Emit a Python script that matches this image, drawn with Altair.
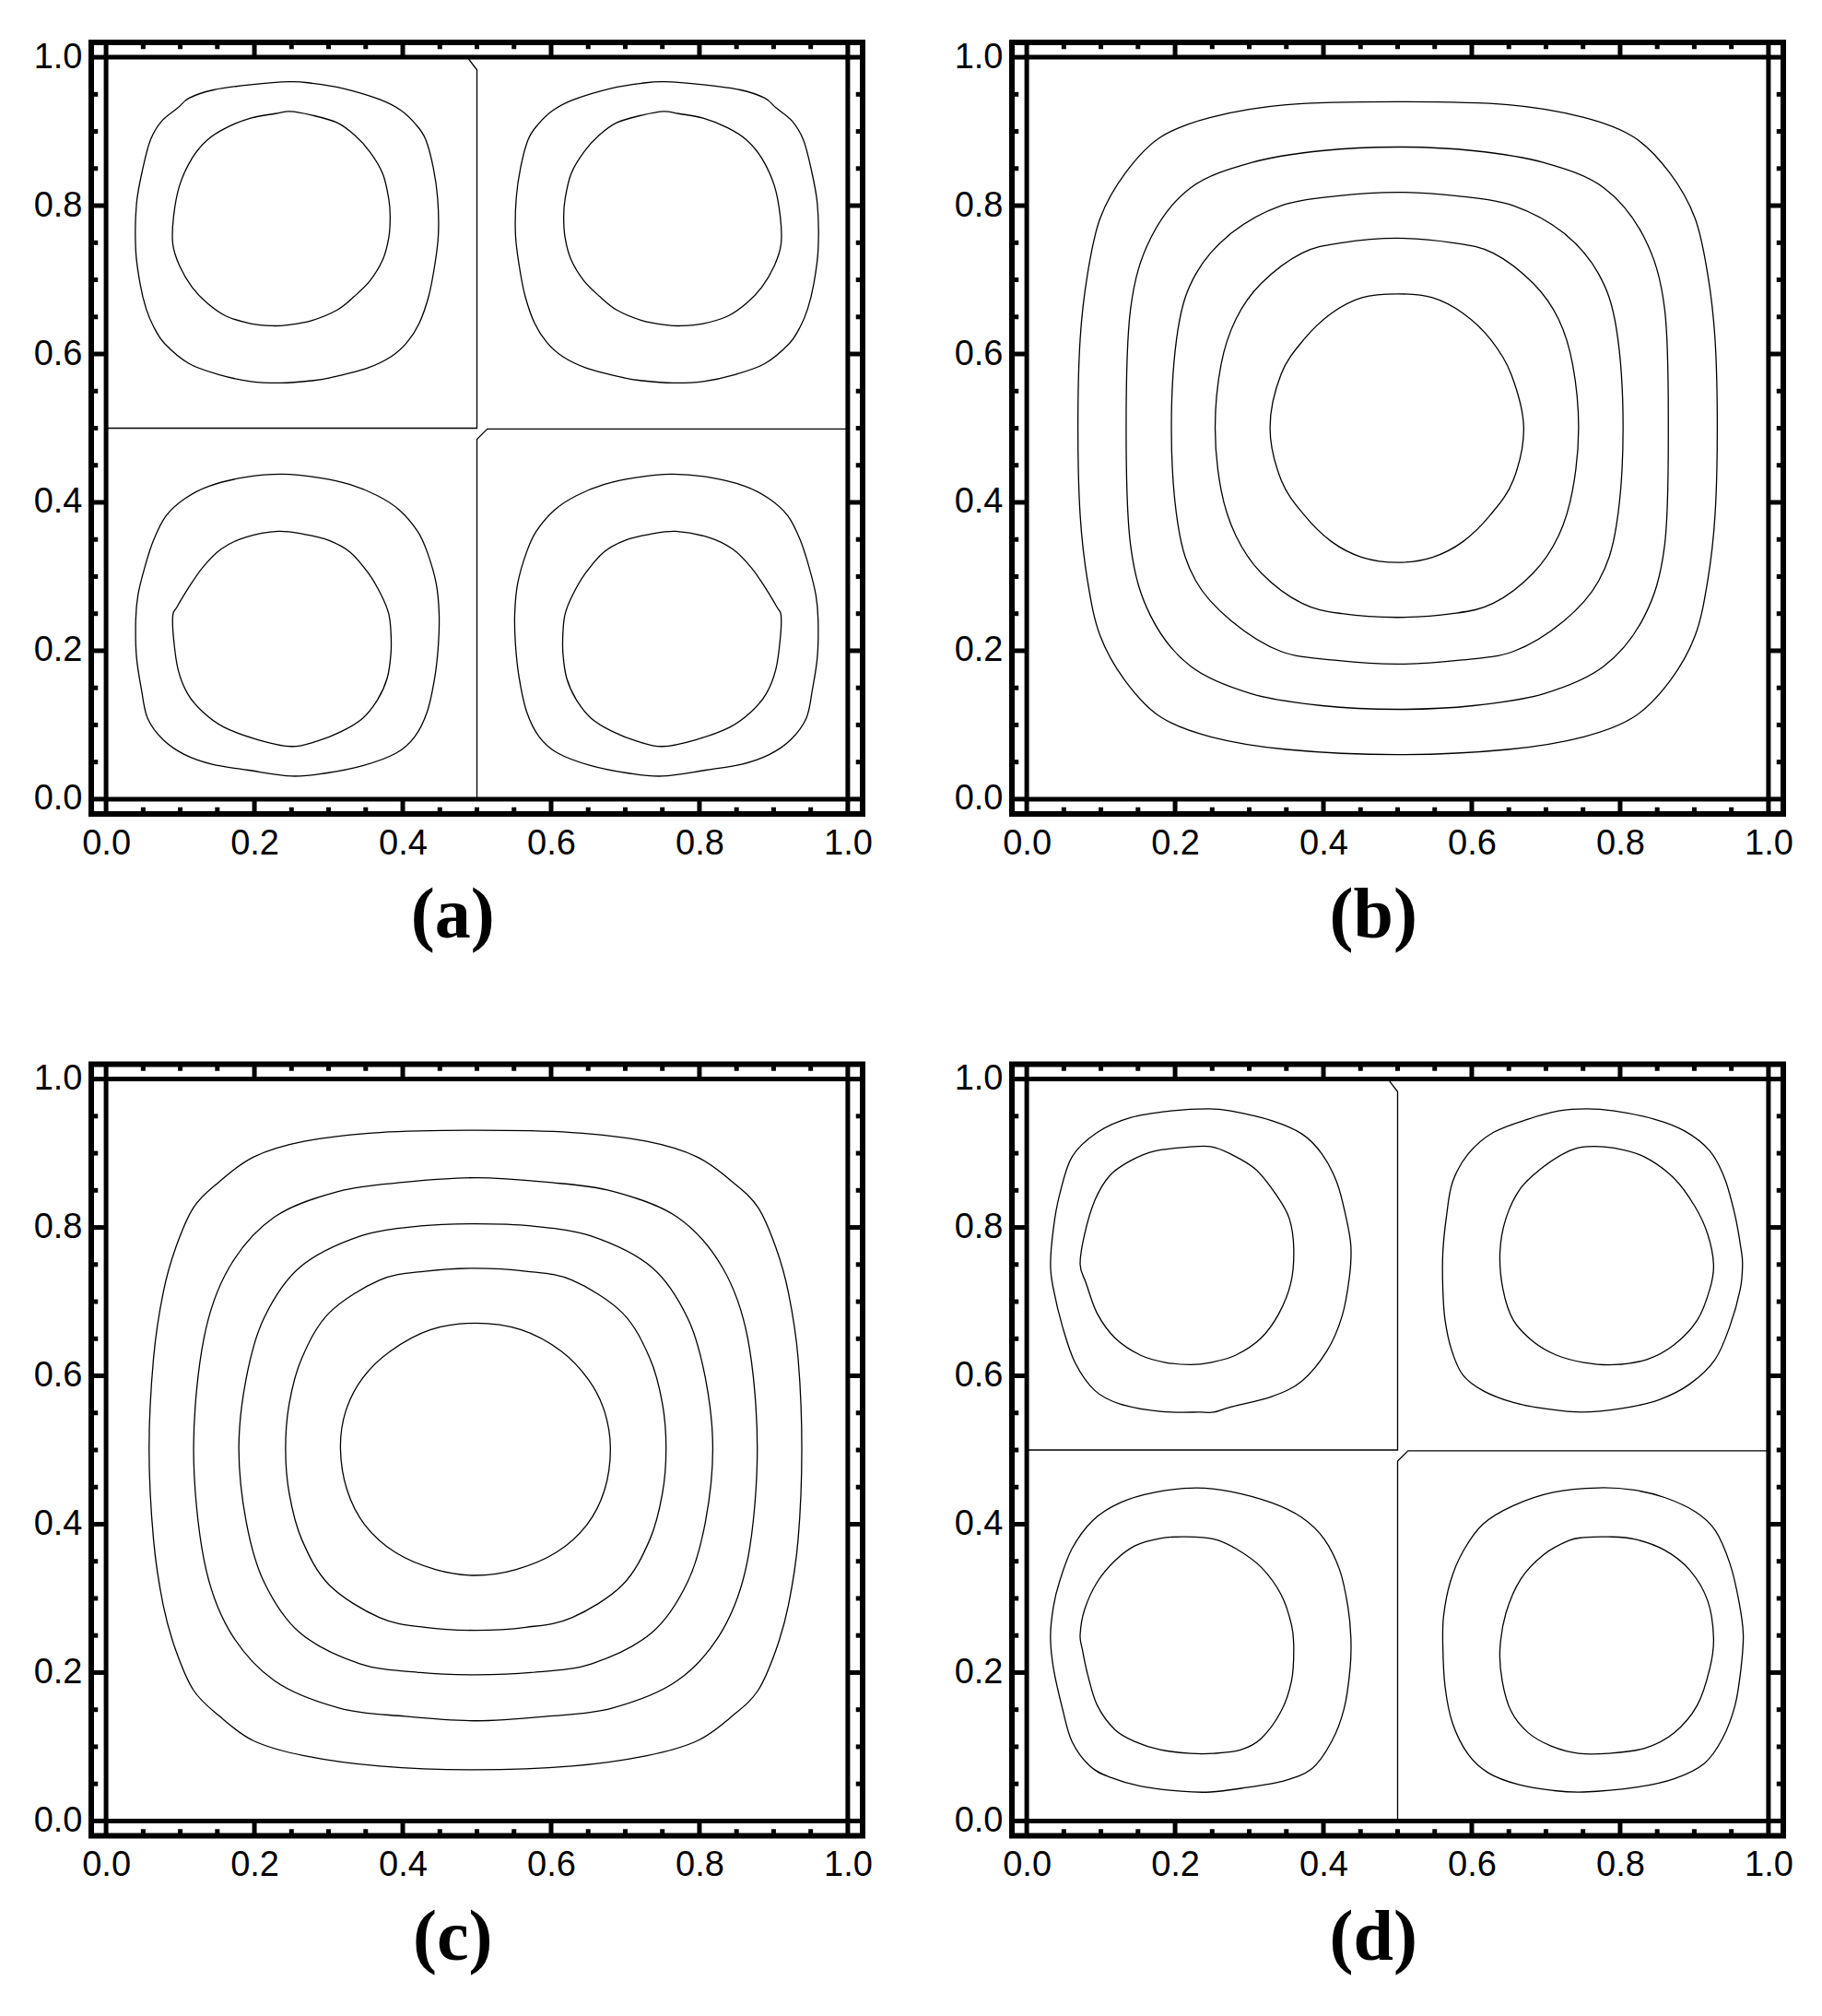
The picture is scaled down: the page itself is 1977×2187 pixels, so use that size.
import altair as alt
import pandas as pd

# ---------------- tick positions / labels ----------------
MAJOR = [0.0, 0.2, 0.4, 0.6, 0.8, 1.0]
MINOR = [0.05, 0.1, 0.15, 0.25, 0.3, 0.35, 0.45, 0.5, 0.55, 0.65, 0.7, 0.75, 0.85, 0.9, 0.95]
CAPTIONS = ["(a)", "(b)", "(c)", "(d)"]

# ---------------- panel (a): four cells ----------------
A_TL_OUT = [(0.248,0.967),(0.277,0.965),(0.319,0.958),(0.369,0.943),(0.398,0.928),(0.418,0.909),(0.431,0.889),
            (0.441,0.852),(0.447,0.810),(0.448,0.761),(0.443,0.719),(0.435,0.678),(0.422,0.641),(0.406,0.616),
            (0.385,0.597),(0.352,0.581),(0.302,0.568),(0.277,0.564),(0.236,0.561),(0.195,0.563),(0.153,0.572),
            (0.112,0.587),(0.079,0.614),(0.064,0.637),(0.054,0.661),(0.046,0.694),(0.040,0.740),(0.041,0.802),
            (0.050,0.852),(0.060,0.889),(0.075,0.914),(0.097,0.932),(0.112,0.945),(0.145,0.956),(0.195,0.963)]
A_TL_IN = [(0.248,0.927),(0.277,0.922),(0.311,0.912),(0.335,0.895),(0.356,0.872),(0.373,0.843),(0.381,0.810),
           (0.383,0.785),(0.381,0.756),(0.373,0.727),(0.356,0.699),(0.335,0.678),(0.311,0.659),(0.277,0.645),
           (0.244,0.639),(0.224,0.638),(0.195,0.641),(0.162,0.651),(0.137,0.668),(0.116,0.690),(0.099,0.719),
           (0.090,0.748),(0.091,0.785),(0.099,0.827),(0.116,0.864),(0.137,0.889),(0.162,0.905),(0.195,0.918),
           (0.228,0.924)]
A_TR_OUT = [(0.752,0.967),(0.723,0.965),(0.681,0.958),(0.631,0.943),(0.602,0.928),(0.582,0.909),(0.569,0.889),
            (0.559,0.852),(0.553,0.810),(0.552,0.761),(0.557,0.719),(0.565,0.678),(0.578,0.641),(0.594,0.616),
            (0.615,0.597),(0.648,0.581),(0.698,0.568),(0.723,0.564),(0.764,0.561),(0.805,0.563),(0.847,0.572),
            (0.888,0.587),(0.921,0.614),(0.936,0.637),(0.946,0.661),(0.954,0.694),(0.960,0.740),(0.959,0.802),
            (0.950,0.852),(0.940,0.889),(0.925,0.914),(0.903,0.932),(0.888,0.945),(0.855,0.956),(0.805,0.963)]
A_TR_IN = [(0.752,0.927),(0.723,0.922),(0.689,0.912),(0.665,0.895),(0.644,0.872),(0.627,0.843),(0.619,0.810),
           (0.617,0.785),(0.619,0.756),(0.627,0.727),(0.644,0.699),(0.665,0.678),(0.689,0.659),(0.723,0.645),
           (0.756,0.639),(0.776,0.638),(0.805,0.641),(0.838,0.651),(0.863,0.668),(0.884,0.690),(0.901,0.719),
           (0.910,0.748),(0.909,0.785),(0.901,0.827),(0.884,0.864),(0.863,0.889),(0.838,0.905),(0.805,0.918),
           (0.772,0.924)]
A_BR_OUT = [(0.762,0.438),(0.812,0.434),(0.861,0.422),(0.894,0.405),(0.919,0.382),(0.936,0.349),(0.948,0.312),
            (0.957,0.275),(0.960,0.242),(0.959,0.192),(0.952,0.146),(0.944,0.109),(0.923,0.080),(0.894,0.060),
            (0.857,0.047),(0.808,0.039),(0.750,0.031),(0.704,0.035),(0.654,0.045),(0.609,0.062),(0.584,0.084),
            (0.567,0.118),(0.557,0.163),(0.552,0.208),(0.551,0.250),(0.555,0.291),(0.567,0.333),(0.580,0.361),
            (0.605,0.390),(0.634,0.409),(0.671,0.424),(0.712,0.433)]
A_BR_IN = [(0.768,0.361),(0.812,0.353),(0.845,0.337),(0.870,0.312),(0.890,0.283),(0.905,0.258),(0.910,0.248),
           (0.909,0.217),(0.903,0.175),(0.890,0.142),(0.870,0.118),(0.841,0.097),(0.795,0.080),(0.750,0.071),
           (0.716,0.078),(0.683,0.091),(0.654,0.109),(0.634,0.134),(0.621,0.163),(0.616,0.196),(0.616,0.225),
           (0.619,0.250),(0.629,0.275),(0.646,0.304),(0.671,0.333),(0.700,0.349),(0.733,0.357)]
A_BL_OUT = [(0.238,0.438),(0.188,0.434),(0.139,0.422),(0.106,0.405),(0.081,0.382),(0.064,0.349),(0.052,0.312),
            (0.043,0.275),(0.040,0.242),(0.041,0.192),(0.048,0.146),(0.056,0.109),(0.077,0.080),(0.106,0.060),
            (0.143,0.047),(0.192,0.039),(0.250,0.031),(0.296,0.035),(0.346,0.045),(0.391,0.062),(0.416,0.084),
            (0.433,0.118),(0.443,0.163),(0.448,0.208),(0.449,0.250),(0.445,0.291),(0.433,0.333),(0.420,0.361),
            (0.395,0.390),(0.366,0.409),(0.329,0.424),(0.288,0.433)]
A_BL_IN = [(0.232,0.361),(0.188,0.353),(0.155,0.337),(0.130,0.312),(0.110,0.283),(0.095,0.258),(0.090,0.248),
           (0.091,0.217),(0.097,0.175),(0.110,0.142),(0.130,0.118),(0.159,0.097),(0.205,0.080),(0.250,0.071),
           (0.284,0.078),(0.317,0.091),(0.346,0.109),(0.366,0.134),(0.379,0.163),(0.384,0.196),(0.384,0.225),
           (0.381,0.250),(0.371,0.275),(0.354,0.304),(0.329,0.333),(0.300,0.349),(0.267,0.357)]
# separatrix lines (zero contour) in (a) and (d)
SEP_1 = [(0.0,0.500),(0.500,0.500),(0.500,0.983),(0.487,1.0)]
SEP_2 = [(1.0,0.499),(0.514,0.499),(0.500,0.485),(0.500,0.0)]

# ---------------- panel (b): single cell ----------------
B1 = [(0.500,0.681),(0.547,0.676),(0.588,0.655),(0.625,0.620),(0.653,0.573),(0.670,0.501),(0.656,0.430),
      (0.625,0.383),(0.588,0.347),(0.547,0.326),(0.500,0.319),(0.452,0.326),(0.411,0.347),(0.374,0.383),
      (0.343,0.430),(0.328,0.501),(0.343,0.573),(0.374,0.620),(0.411,0.655),(0.452,0.676)]
B2 = [(0.500,0.756),(0.574,0.750),(0.629,0.736),(0.683,0.695),(0.717,0.647),(0.736,0.586),(0.744,0.501),
      (0.736,0.417),(0.717,0.355),(0.683,0.305),(0.629,0.264),(0.574,0.250),(0.500,0.245),(0.425,0.250),
      (0.371,0.264),(0.316,0.305),(0.282,0.355),(0.262,0.417),(0.254,0.501),(0.262,0.586),(0.282,0.647),
      (0.316,0.695),(0.371,0.736),(0.425,0.750)]
B3 = [(0.500,0.818),(0.581,0.813),(0.656,0.800),(0.724,0.763),(0.771,0.708),(0.795,0.634),(0.804,0.501),
      (0.795,0.369),(0.771,0.294),(0.724,0.240),(0.656,0.199),(0.581,0.187),(0.500,0.182),(0.418,0.187),
      (0.343,0.199),(0.276,0.240),(0.228,0.294),(0.204,0.369),(0.195,0.501),(0.204,0.634),(0.228,0.708),
      (0.276,0.763),(0.343,0.800),(0.418,0.813)]
B4 = [(0.500,0.879),(0.602,0.874),(0.697,0.858),(0.778,0.824),(0.833,0.756),(0.860,0.661),(0.865,0.501),
      (0.860,0.342),(0.833,0.247),(0.778,0.179),(0.697,0.142),(0.602,0.126),(0.500,0.121),(0.398,0.126),
      (0.303,0.142),(0.221,0.179),(0.167,0.247),(0.140,0.342),(0.134,0.501),(0.140,0.661),(0.167,0.756),
      (0.221,0.824),(0.303,0.858),(0.398,0.874)]
B5 = [(0.500,0.940),(0.649,0.936),(0.751,0.919),(0.819,0.892),(0.867,0.844),(0.901,0.783),(0.918,0.708),
      (0.928,0.620),(0.931,0.501),(0.928,0.383),(0.918,0.294),(0.901,0.220),(0.867,0.159),(0.819,0.111),
      (0.751,0.084),(0.649,0.067),(0.500,0.060),(0.350,0.067),(0.248,0.084),(0.180,0.111),(0.133,0.159),
      (0.099,0.220),(0.082,0.294),(0.072,0.383),(0.069,0.501),(0.072,0.620),(0.082,0.708),(0.099,0.783),
      (0.133,0.844),(0.180,0.892),(0.248,0.919),(0.350,0.936)]

# ---------------- panel (c): single cell ----------------
C1 = [(0.498,0.671),(0.560,0.662),(0.614,0.633),(0.651,0.594),(0.672,0.552),(0.680,0.502),(0.672,0.446),
      (0.648,0.399),(0.607,0.362),(0.553,0.339),(0.498,0.331),(0.444,0.339),(0.390,0.362),(0.349,0.399),
      (0.325,0.446),(0.316,0.502),(0.323,0.552),(0.346,0.597),(0.383,0.633),(0.437,0.662)]
C2 = [(0.498,0.745),(0.566,0.741),(0.628,0.729),(0.696,0.685),(0.733,0.624),(0.750,0.563),(0.755,0.502),
      (0.750,0.441),(0.733,0.379),(0.696,0.318),(0.628,0.274),(0.566,0.261),(0.498,0.257),(0.430,0.261),
      (0.369,0.274),(0.301,0.318),(0.264,0.379),(0.247,0.441),(0.242,0.502),(0.247,0.563),(0.264,0.624),
      (0.301,0.685),(0.369,0.729),(0.430,0.741)]
C3 = [(0.498,0.805),(0.573,0.802),(0.655,0.788),(0.736,0.746),(0.784,0.678),(0.808,0.597),(0.818,0.502),
      (0.808,0.403),(0.784,0.322),(0.736,0.254),(0.655,0.212),(0.573,0.200),(0.498,0.197),(0.424,0.200),
      (0.342,0.212),(0.261,0.254),(0.213,0.322),(0.189,0.403),(0.179,0.502),(0.189,0.597),(0.213,0.678),
      (0.261,0.746),(0.342,0.788),(0.424,0.802)]
C4 = [(0.498,0.867),(0.594,0.861),(0.682,0.849),(0.770,0.814),(0.831,0.746),(0.865,0.651),(0.878,0.502),
      (0.865,0.352),(0.831,0.257),(0.770,0.189),(0.682,0.152),(0.594,0.141),(0.498,0.135),(0.403,0.141),
      (0.315,0.152),(0.227,0.189),(0.166,0.257),(0.132,0.352),(0.118,0.502),(0.132,0.651),(0.166,0.746),
      (0.227,0.814),(0.315,0.849),(0.403,0.861)]
C5 = [(0.498,0.931),(0.628,0.928),(0.729,0.916),(0.797,0.895),(0.845,0.861),(0.879,0.827),(0.903,0.773),
      (0.920,0.712),(0.933,0.624),(0.938,0.502),(0.933,0.379),(0.920,0.291),(0.903,0.230),(0.879,0.176),
      (0.845,0.142),(0.797,0.108),(0.729,0.088),(0.628,0.074),(0.498,0.069),(0.369,0.074),(0.267,0.088),
      (0.199,0.108),(0.152,0.142),(0.118,0.176),(0.094,0.230),(0.077,0.291),(0.064,0.379),(0.058,0.502),
      (0.064,0.624),(0.077,0.712),(0.094,0.773),(0.118,0.827),(0.152,0.861),(0.199,0.895),(0.267,0.916),
      (0.369,0.928)]

# ---------------- panel (d): four cells ----------------
D_TL_OUT = [(0.245,0.960),(0.275,0.957),(0.330,0.944),(0.371,0.926),(0.398,0.899),(0.418,0.861),(0.430,0.816),
            (0.437,0.775),(0.435,0.733),(0.425,0.680),(0.405,0.634),(0.371,0.593),(0.330,0.572),(0.275,0.558),
            (0.252,0.551),(0.235,0.551),(0.180,0.552),(0.126,0.562),(0.092,0.580),(0.065,0.618),(0.048,0.667),
            (0.036,0.717),(0.032,0.750),(0.036,0.799),(0.044,0.843),(0.061,0.895),(0.095,0.928),(0.140,0.948),
            (0.194,0.957)]
D_TL_IN = [(0.248,0.909),(0.275,0.899),(0.309,0.878),(0.337,0.843),(0.354,0.812),(0.360,0.771),(0.356,0.725),
           (0.340,0.684),(0.316,0.651),(0.282,0.628),(0.248,0.618),(0.221,0.615),(0.187,0.618),(0.153,0.628),
           (0.119,0.651),(0.095,0.684),(0.080,0.725),(0.072,0.750),(0.078,0.791),(0.092,0.837),(0.112,0.870),
           (0.140,0.890),(0.173,0.903),(0.214,0.908)]
D_TR_OUT = [(0.755,0.960),(0.792,0.957),(0.846,0.946),(0.887,0.930),(0.921,0.903),(0.941,0.866),(0.955,0.816),
            (0.963,0.771),(0.965,0.750),(0.962,0.717),(0.948,0.667),(0.928,0.622),(0.894,0.589),(0.853,0.568),
            (0.802,0.556),(0.748,0.551),(0.697,0.556),(0.656,0.564),(0.615,0.580),(0.588,0.601),(0.573,0.634),
            (0.564,0.675),(0.561,0.717),(0.561,0.766),(0.566,0.816),(0.574,0.861),(0.595,0.899),(0.629,0.928),
            (0.676,0.946),(0.717,0.957)]
D_TR_IN = [(0.755,0.909),(0.792,0.907),(0.833,0.895),(0.873,0.866),(0.901,0.828),(0.918,0.791),(0.926,0.750),
           (0.921,0.717),(0.904,0.675),(0.873,0.642),(0.836,0.622),(0.792,0.615),(0.751,0.618),(0.714,0.628),
           (0.683,0.646),(0.656,0.675),(0.642,0.717),(0.638,0.766),(0.646,0.812),(0.666,0.853),(0.697,0.882),
           (0.731,0.903)]
D_BL_OUT = [(0.228,0.449),(0.275,0.444),(0.330,0.429),(0.371,0.409),(0.401,0.380),(0.422,0.338),(0.433,0.289),
            (0.437,0.247),(0.436,0.206),(0.428,0.152),(0.411,0.107),(0.384,0.070),(0.343,0.053),(0.296,0.045),
            (0.248,0.039),(0.208,0.040),(0.153,0.047),(0.112,0.059),(0.085,0.074),(0.061,0.107),(0.048,0.152),
            (0.036,0.206),(0.032,0.249),(0.036,0.289),(0.044,0.322),(0.061,0.367),(0.089,0.405),(0.126,0.429),
            (0.173,0.443)]
D_BL_IN = [(0.214,0.383),(0.252,0.380),(0.282,0.367),(0.316,0.342),(0.343,0.305),(0.357,0.264),(0.360,0.231),
           (0.357,0.189),(0.343,0.148),(0.316,0.111),(0.289,0.096),(0.252,0.091),(0.221,0.091),(0.180,0.096),
           (0.146,0.107),(0.119,0.123),(0.095,0.156),(0.082,0.198),(0.075,0.231),(0.072,0.251),(0.078,0.285),
           (0.095,0.322),(0.119,0.351),(0.146,0.371),(0.180,0.381)]
D_BR_OUT = [(0.771,0.449),(0.819,0.446),(0.860,0.436),(0.901,0.417),(0.928,0.392),(0.948,0.347),(0.960,0.297),
            (0.966,0.252),(0.963,0.206),(0.955,0.156),(0.938,0.111),(0.914,0.078),(0.873,0.057),(0.819,0.045),
            (0.751,0.039),(0.710,0.041),(0.663,0.049),(0.622,0.065),(0.595,0.090),(0.574,0.132),(0.564,0.181),
            (0.561,0.235),(0.562,0.276),(0.571,0.322),(0.588,0.363),(0.615,0.400),(0.656,0.425),(0.710,0.443)]
D_BR_IN = [(0.784,0.383),(0.819,0.380),(0.860,0.365),(0.894,0.338),(0.918,0.297),(0.926,0.247),(0.921,0.206),
           (0.904,0.156),(0.873,0.119),(0.833,0.098),(0.784,0.091),(0.744,0.091),(0.707,0.101),(0.676,0.119),
           (0.653,0.148),(0.641,0.189),(0.638,0.231),(0.646,0.280),(0.666,0.326),(0.697,0.359),(0.731,0.378),
           (0.751,0.382)]

PANEL_CLOSED = [
    [A_TL_OUT, A_TL_IN, A_TR_OUT, A_TR_IN, A_BL_OUT, A_BL_IN, A_BR_OUT, A_BR_IN],
    [B1, B2, B3, B4, B5],
    [C1, C2, C3, C4, C5],
    [D_TL_OUT, D_TL_IN, D_TR_OUT, D_TR_IN, D_BL_OUT, D_BL_IN, D_BR_OUT, D_BR_IN],
]
PANEL_OPEN = [[SEP_1, SEP_2], [], [], [SEP_1, SEP_2]]

# ---------------- styling ----------------
PAD = 0.02                 # plot range padding (outer frame)
LO, HI = -PAD, 1.0 + PAD
MAJOR_LEN = PAD            # major ticks reach the inner frame
MINOR_LEN = 0.009
VIEW = 837
LABEL_FONT = "Liberation Sans"
CAPTION_FONT = "Liberation Serif"


def curves_frame(curves):
    rows = []
    for cid, pts in enumerate(curves):
        for i, (x, y) in enumerate(pts):
            rows.append({"curve": cid, "i": i, "x": x, "y": y})
    return pd.DataFrame(rows, columns=["curve", "i", "x", "y"])


def tick_frame(values, length):
    rows = []
    for t in values:
        rows.append({"x": t, "x2": t, "y": LO, "y2": LO + length})   # bottom
        rows.append({"x": t, "x2": t, "y": HI, "y2": HI - length})   # top
        rows.append({"x": LO, "x2": LO + length, "y": t, "y2": t})   # left
        rows.append({"x": HI, "x2": HI - length, "y": t, "y2": t})   # right
    return pd.DataFrame(rows)


xscale = alt.Scale(domain=[LO, HI], nice=False, zero=False)
yscale = alt.Scale(domain=[LO, HI], nice=False, zero=False)
xaxis = alt.Axis(values=MAJOR, format=".1f", title=None, grid=False, domain=False, ticks=False, tickSize=0,
                 labelFont=LABEL_FONT, labelFontSize=38, labelColor="black", labelPadding=13,
                 labelFlush=False, labelOverlap=False)
yaxis = alt.Axis(values=MAJOR, format=".1f", title=None, grid=False, domain=False, ticks=False, tickSize=0,
                 labelFont=LABEL_FONT, labelFontSize=38, labelColor="black", labelPadding=10,
                 labelOverlap=False)
X = alt.X("x:Q", scale=xscale, axis=xaxis)
Y = alt.Y("y:Q", scale=yscale, axis=yaxis)

frame_df = pd.DataFrame({"x": [0.0], "x2": [1.0], "y": [0.0], "y2": [1.0]})
major_df = tick_frame(MAJOR, MAJOR_LEN)
minor_df = tick_frame(MINOR, MINOR_LEN)


def panel(closed, opened, caption):
    layers = []
    layers.append(
        alt.Chart(curves_frame(closed)).mark_line(
            interpolate="cardinal-closed", color="black", strokeWidth=1.3
        ).encode(x=X, y=Y, detail="curve:N", order="i:Q")
    )
    if opened:
        layers.append(
            alt.Chart(curves_frame(opened)).mark_line(
                interpolate="linear", color="black", strokeWidth=1.3
            ).encode(x=X, y=Y, detail="curve:N", order="i:Q")
        )
    layers.append(
        alt.Chart(frame_df).mark_rect(fillOpacity=0, stroke="black", strokeWidth=5).encode(
            x=X, x2="x2:Q", y=Y, y2="y2:Q")
    )
    layers.append(
        alt.Chart(major_df).mark_rule(color="black", strokeWidth=5).encode(x=X, x2="x2:Q", y=Y, y2="y2:Q")
    )
    layers.append(
        alt.Chart(minor_df).mark_rule(color="black", strokeWidth=5).encode(x=X, x2="x2:Q", y=Y, y2="y2:Q")
    )
    return alt.layer(*layers).properties(
        width=VIEW, height=VIEW,
        title=alt.TitleParams(caption, orient="bottom", anchor="middle", frame="bounds",
                              font=CAPTION_FONT, fontSize=78, fontWeight="bold", color="black", offset=21),
    )


panels = [panel(c, o, t) for c, o, t in zip(PANEL_CLOSED, PANEL_OPEN, CAPTIONS)]

chart = alt.concat(
    *panels, columns=2, spacing={"row": 271.5, "column": 162}, bounds="flush"
).properties(
    padding={"left": 25, "top": 32, "right": 5, "bottom": 5}
).configure_view(
    stroke="black", strokeWidth=6
)

chart.save("out.html", embed_options={"renderer": "svg", "actions": False})
